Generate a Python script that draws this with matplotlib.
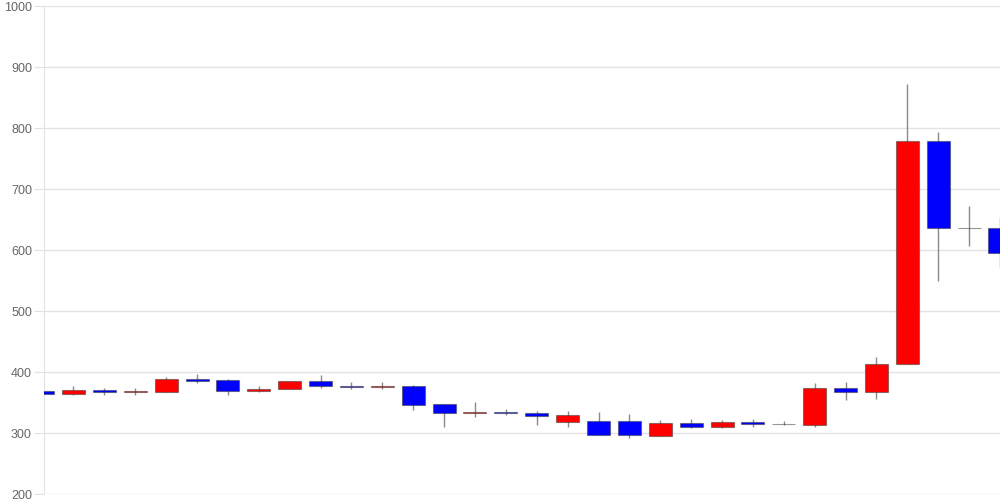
import matplotlib
matplotlib.use("Agg")
import matplotlib.pyplot as plt
import numpy as np

opens  = [370, 365, 371, 367, 368, 389, 387, 370, 372, 386,
          378, 376, 378, 348, 334, 335, 334, 319, 320, 320,
          295, 317, 311, 318, 316, 314, 374, 368, 414, 780,
          637, 636]
closes = [365, 371, 367, 370, 389, 385, 369, 373, 385, 377,
          376, 377, 347, 334, 335, 333, 329, 330, 298, 298,
          317, 311, 318, 315, 315, 374, 368, 414, 780, 637,
          636, 595]
highs  = [370, 377, 374, 374, 392, 398, 389, 377, 385, 395,
          384, 384, 379, 348, 352, 340, 337, 337, 335, 331,
          322, 324, 321, 323, 320, 382, 384, 425, 873, 794,
          673, 654]
lows   = [364, 362, 362, 363, 368, 383, 363, 368, 372, 375,
          373, 373, 338, 311, 326, 330, 314, 310, 297, 293,
          295, 309, 309, 311, 314, 311, 354, 356, 414, 550,
          607, 573]

y_ticks = [200, 300, 400, 500, 600, 700, 800, 900, 1000]

fig = plt.figure(figsize=(10, 5), dpi=100)
ax = fig.add_axes([0.044, 0.0114, 0.956, 0.976])

x = np.arange(len(opens))
o = np.array(opens, dtype=float)
c = np.array(closes, dtype=float)
up = c >= o
colors = np.where(up, '#ff0000', '#0000ff')

ax.vlines(x, lows, highs, color='#8a8a8a', linewidth=1.0, zorder=2)
bottoms = np.minimum(o, c)
heights = np.maximum(np.abs(c - o), 0.8)
ax.bar(x, heights, bottom=bottoms, width=0.745, color=colors,
       edgecolor=(0.25, 0.25, 0.25, 0.55), linewidth=0.8, zorder=3)

ax.set_xlim(0.045, 31.0)
ax.set_ylim(200, 1000)
ax.set_yticks(y_ticks)
ax.set_yticklabels([str(t) for t in y_ticks], family=['Liberation Sans', 'DejaVu Sans'])
ax.set_xticks([])
ax.grid(axis='y', color='#e3e3e3', linewidth=1.0, zorder=0)
ax.set_axisbelow(True)
for s in ['top', 'right', 'bottom']:
    ax.spines[s].set_visible(False)
ax.spines['left'].set_color('#e3e3e3')
ax.tick_params(axis='y', length=7.2, color='#e3e3e3', labelcolor='#666666',
               labelsize=9, pad=1.5)

fig.savefig('out.png', dpi=100)
